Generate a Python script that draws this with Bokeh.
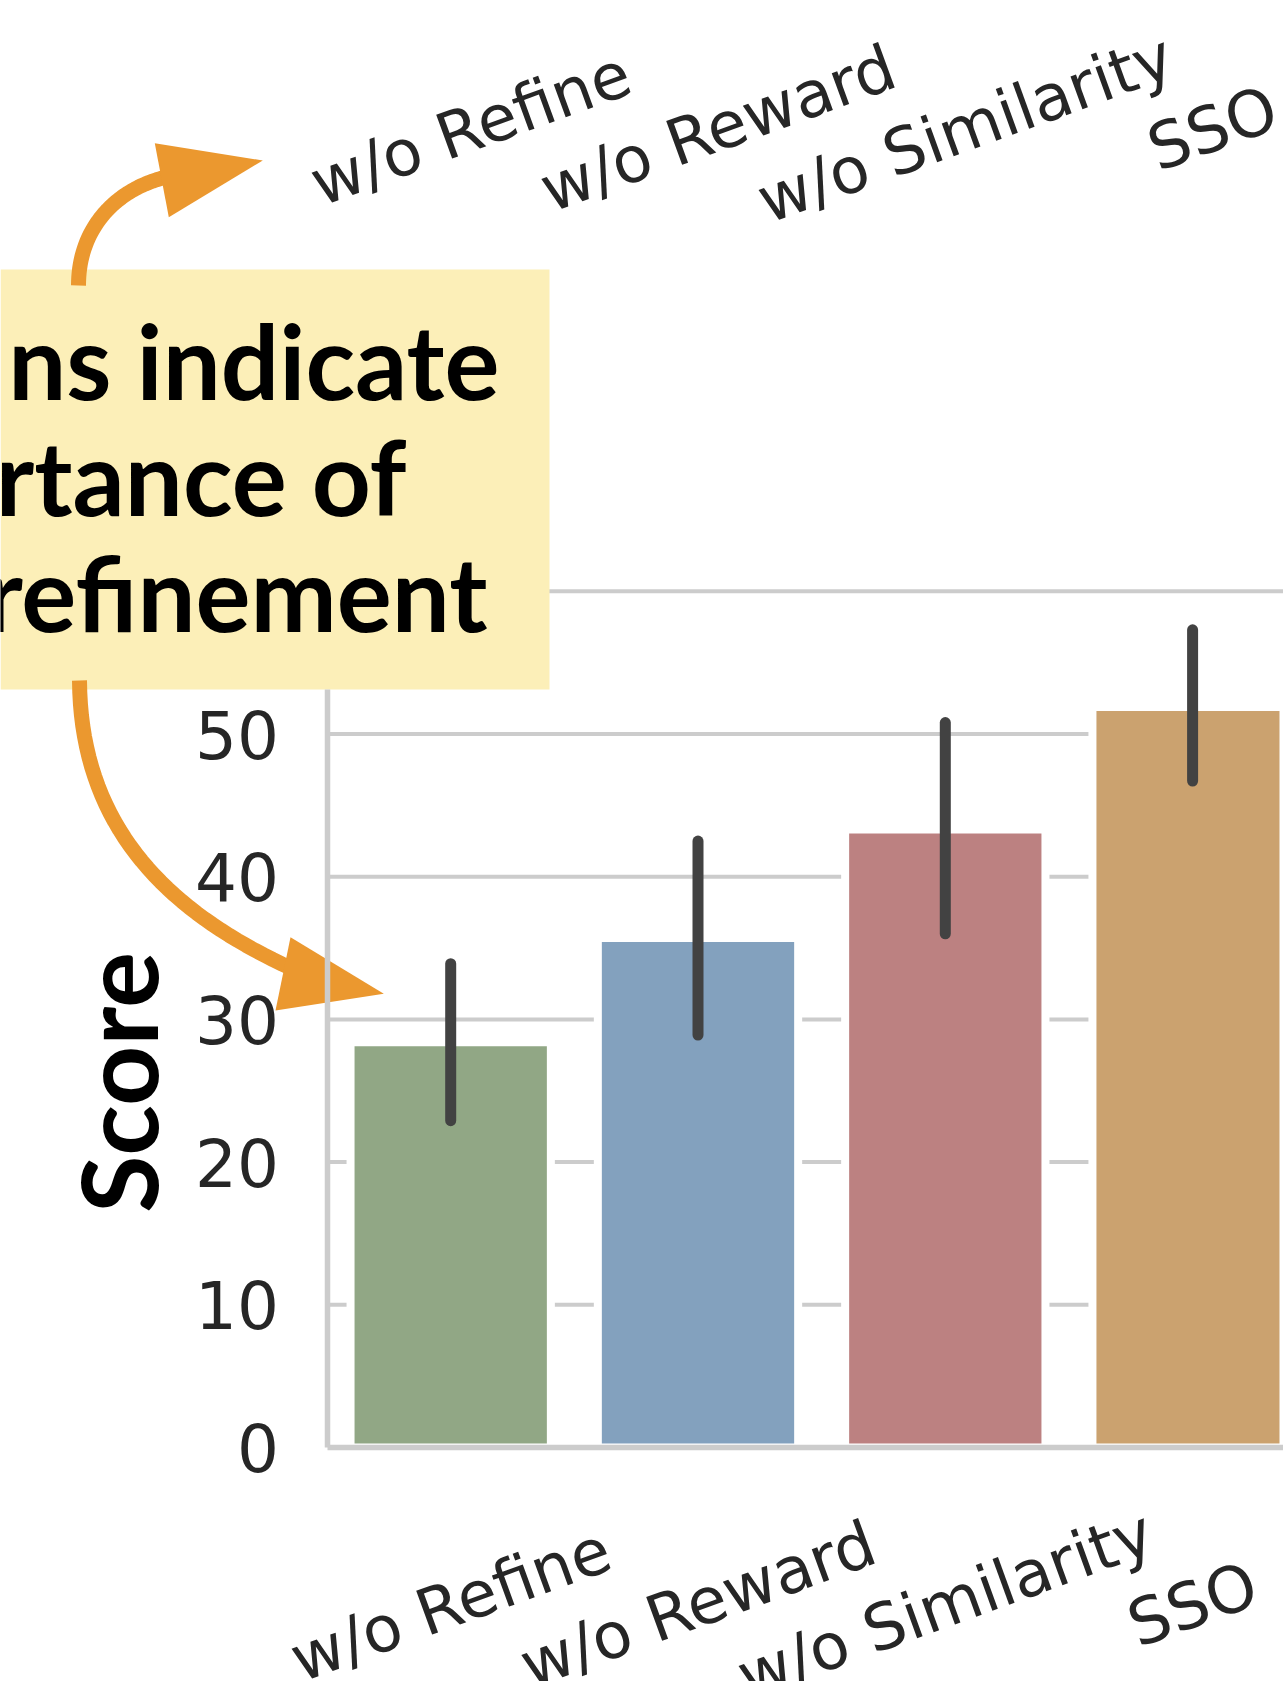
import math
import numpy as np
from bokeh.plotting import figure
from bokeh.models import Range1d, LinearAxis, FixedTicker, ColumnDataSource
from bokeh.core.properties import value
from bokeh.embed import file_html
from bokeh.resources import INLINE

# ---------------- data ----------------
categories = ["w/o Refine", "w/o Reward", "w/o Similarity", "SSO"]
scores = [28.4, 35.7, 43.3, 51.9]
ci_low = [22.9, 28.9, 36.0, 46.7]
ci_high = [33.9, 42.5, 50.8, 57.3]
bar_colors = ["#91A785", "#83A1BE", "#BC8181", "#CBA26F"]
y_ticks = [0, 10, 20, 30, 40, 50, 60]
note_lines = ["ns indicate", "rtance of", "refinement"]
y_label = "Score"

# ---------------- layout (reference pixel geometry) ----------------
W, H = 1283, 1681
CX0, CSTEP = 450.2, 247.3      # px of category 0 centre, px per category
VY0, VPX = 1447.0, 14.27       # px of value 0, px per unit
x_lo = (0 - CX0) / CSTEP
x_hi = (W - CX0) / CSTEP
y_hi = VY0 / VPX
y_lo = (VY0 - H) / VPX
BOX_BOTTOM_VAL = (VY0 - 689) / VPX

p = figure(width=W, height=H, x_range=Range1d(x_lo, x_hi), y_range=Range1d(y_lo, y_hi),
           x_axis_type=None, y_axis_type=None, min_border=0, title=None,
           toolbar_location=None, output_backend="svg", outline_line_color=None)
p.extra_x_ranges = {"px": Range1d(0, W)}
p.extra_y_ranges = {"px": Range1d(H, 0)}

GRID = "#cccccc"
INK = "#262626"

# grid lines (only inside axes area)
p.segment(x0=-0.5, x1=x_hi, y0=y_ticks[1:], y1=y_ticks[1:], line_color=GRID, line_width=4)

src = ColumnDataSource(dict(x=list(range(len(categories))), top=scores, color=bar_colors,
                            lo=ci_low, hi=ci_high, label=categories))
p.vbar(x="x", top="top", bottom=0, width=0.81, fill_color="color", line_color="white",
       line_width=8, source=src)
p.segment(x0="x", x1="x", y0="lo", y1="hi", line_color="#424242", line_width=11,
          line_cap="round", source=src)

# axes (tick labels hidden by the note box are not drawn)
axis_ticks = [t for t in y_ticks if t <= BOX_BOTTOM_VAL]
yax = LinearAxis(fixed_location=-0.5, bounds=(0, BOX_BOTTOM_VAL), ticker=FixedTicker(ticks=axis_ticks),
                 axis_line_color=GRID, axis_line_width=5.5, major_tick_line_color=None,
                 minor_tick_line_color=None, major_label_text_font="DejaVu Sans",
                 major_label_text_font_size="66px", major_label_text_color=INK,
                 major_label_standoff=42)
p.add_layout(yax, "left")
xax = LinearAxis(fixed_location=0, bounds=(-0.5, x_hi), ticker=FixedTicker(ticks=[]),
                 axis_line_color=GRID, axis_line_width=5.5, major_tick_line_color=None,
                 minor_tick_line_color=None, major_label_text_font_size="0px")
p.add_layout(xax, "below")

# category labels (bottom chart and the one above, which is cut off)
rot = math.radians(20)
p.text(x="x", y=1604, text="label", angle=rot, text_align="center", text_baseline="alphabetic",
       text_font=value("DejaVu Sans"), text_font_size="64px", text_color=INK,
       y_range_name="px", source=src)
p.text(x="x", y=128, text="label", angle=rot, x_offset=20, text_align="center",
       text_baseline="alphabetic", text_font=value("DejaVu Sans"), text_font_size="64px",
       text_color=INK, y_range_name="px", source=src)

# y label
p.text(x=[116], y=[1082], text=[y_label], angle=math.pi / 2, text_align="center",
       text_baseline="alphabetic", text_font=value("Lato"), text_font_style="bold",
       text_font_size="105px", text_color="black", x_range_name="px", y_range_name="px")

# annotation box
ORANGE = "#EB982F"
p.quad(left=0, right=549, top=269, bottom=689, fill_color="#FCEFB8", line_color=None,
       x_range_name="px", y_range_name="px")

# arrows: cubic curves sampled, plus heads
def cubic(p0, c0, c1, p1, n=40):
    t = np.linspace(0, 1, n)[:, None]
    pts = ((1 - t) ** 3) * np.array(p0) + 3 * ((1 - t) ** 2) * t * np.array(c0) \
        + 3 * (1 - t) * t ** 2 * np.array(c1) + t ** 3 * np.array(p1)
    return pts[:, 0].tolist(), pts[:, 1].tolist()

a1x, a1y = cubic((78, 285), (78, 228), (115, 188), (168, 176))
a2x, a2y = cubic((79, 680), (80, 835), (178, 918), (300, 972))
p.multi_line(xs=[a1x, a2x], ys=[a1y, a2y], line_color=ORANGE, line_width=15,
             x_range_name="px", y_range_name="px")
p.patches(xs=[[154.3, 262.3, 168.3], [290, 383.3, 275]],
          ys=[[142.7, 160, 216.7], [936.7, 993.3, 1010]],
          fill_color=ORANGE, line_color=None, x_range_name="px", y_range_name="px")

# note text in the box
p.text(x=[499, 406, 487], y=[359, 475, 591], text=note_lines,
       text_align="right", text_baseline="alphabetic", text_font=value("Lato"),
       text_font_style="bold", text_font_size="103px", text_color="black",
       x_range_name="px", y_range_name="px")

open("out.html", "w").write(file_html(p, INLINE))
